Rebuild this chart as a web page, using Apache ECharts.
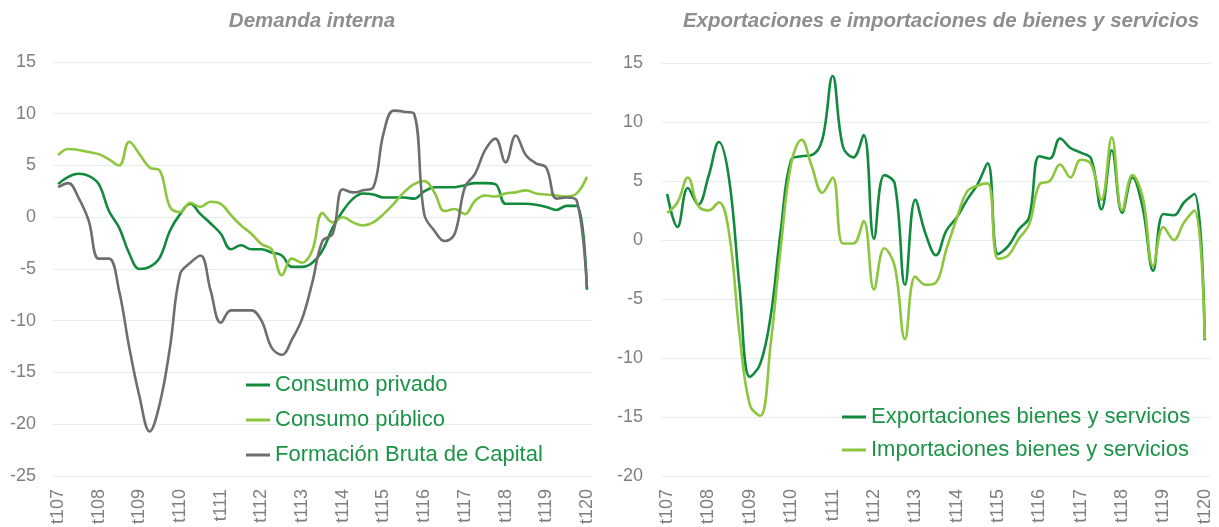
<!DOCTYPE html>
<html>
<head>
<meta charset="utf-8">
<script src="https://cdn.jsdelivr.net/npm/echarts@6/dist/echarts.min.js"></script>
<style>
  html, body { margin: 0; padding: 0; background: #fff; }
  #chart { width: 1219px; height: 527px; }
</style>
</head>
<body>
<div id="chart"></div>
<script type="text/javascript">
// trimestres t107 .. t120
var categories = [
  't107','t207','t307','t407','t108','t208','t308','t408','t109','t209','t309','t409',
  't110','t210','t310','t410','t111','t211','t311','t411','t112','t212','t312','t412',
  't113','t213','t313','t413','t114','t214','t314','t414','t115','t215','t315','t415',
  't116','t216','t316','t416','t117','t217','t317','t417','t118','t218','t318','t418',
  't119','t219','t319','t419','t120'
];

// Demanda interna
var consumoPrivado = [
  3.2, 3.9, 4.2, 4.0, 3.2, 0.6, -1.0, -3.5, -5.0, -4.8, -3.9, -1.3,
  0.3, 1.3, 0.3, -0.6, -1.6, -3.1, -2.7, -3.1, -3.1, -3.4, -3.7, -4.8,
  -4.8, -4.4, -3.2, -1.0, 0.6, 1.8, 2.3, 2.2, 1.9, 1.9, 1.9, 1.8,
  2.5, 2.9, 2.9, 2.9, 3.1, 3.3, 3.3, 3.2, 1.3, 1.3, 1.3, 1.2,
  1.0, 0.7, 1.1, 1.1, -7.0
];
var consumoPublico = [
  6.0, 6.6, 6.5, 6.3, 6.1, 5.6, 5.0, 7.3, 6.1, 4.8, 4.5, 1.0,
  0.5, 1.4, 1.0, 1.5, 1.3, 0.2, -0.8, -1.6, -2.6, -3.1, -5.6, -4.0,
  -4.4, -3.2, 0.4, -0.5, 0.0, -0.5, -0.8, -0.5, 0.3, 1.3, 2.4, 3.2,
  3.5, 2.4, 0.6, 0.8, 0.3, 1.6, 2.1, 2.0, 2.3, 2.4, 2.6, 2.3,
  2.2, 2.1, 2.0, 2.3, 3.9
];
var formacionBruta = [
  2.9, 3.3, 1.9, -0.3, -4.0, -4.0, -7.1, -12.6, -17.3, -20.7, -18.0, -12.6,
  -5.5, -4.4, -3.7, -7.1, -10.2, -9.0, -9.0, -9.0, -10.0, -12.6, -13.3, -11.8,
  -9.8, -6.3, -2.3, -1.6, 2.7, 2.4, 2.6, 2.9, 8.1, 10.3, 10.2, 10.0,
  0.3, -1.3, -2.3, -1.6, 2.9, 4.2, 6.5, 7.6, 5.3, 7.9, 6.0, 5.2,
  4.8, 1.8, 1.9, 1.6, -6.8
];

// Exportaciones e importaciones
var exportaciones = [
  3.9, 1.1, 4.4, 3.0, 5.4, 8.3, 5.1, -4.0, -11.6, -10.5, -6.5, 0.9,
  6.8, 7.1, 7.2, 8.5, 13.9, 7.9, 7.0, 8.9, 0.1, 5.5, 4.8, -3.8,
  3.4, 0.5, -1.3, 0.8, 1.9, 3.4, 4.7, 6.5, -1.2, -0.5, 0.9, 1.9,
  7.1, 6.9, 8.6, 7.8, 7.4, 6.9, 2.6, 7.6, 2.3, 5.3, 2.7, -2.6,
  2.2, 2.1, 3.2, 3.9, -8.5
];
var importaciones = [
  2.3, 3.2, 5.3, 2.9, 2.5, 3.2, 0.5, -8.0, -14.0, -14.9, -8.9, -0.5,
  6.5, 8.5, 6.2, 4.0, 5.3, -0.3, -0.3, 1.6, -4.2, -0.7, -2.2, -8.4,
  -3.1, -3.8, -3.6, -0.8, 1.8, 4.1, 4.6, 4.8, -1.6, -1.3, 0.1, 1.3,
  4.7, 5.0, 6.4, 5.3, 6.8, 6.4, 3.4, 8.7, 2.5, 5.5, 3.6, -2.2,
  1.1, 0.0, 1.5, 2.5, -8.4
];

var verdeOscuro = '#118a3d';
var verdeClaro = '#8cc63e';
var gris = '#6e6e6e';
var fuente = 'Liberation Sans, Arial, sans-serif';

var chart = echarts.init(document.getElementById('chart'));

function xAxis(gridIndex) {
  return {
    type: 'category',
    gridIndex: gridIndex,
    data: categories,
    boundaryGap: true,
    axisLine: { show: false },
    axisTick: { show: false },
    axisLabel: {
      interval: 3,
      rotate: 90,
      margin: 13,
      color: '#7f7f7f',
      fontSize: 18,
      fontFamily: fuente
    }
  };
}

function yAxis(gridIndex, min, max, margin) {
  return {
    type: 'value',
    gridIndex: gridIndex,
    min: min,
    max: max,
    interval: 5,
    axisLine: { show: false },
    axisTick: { show: false },
    splitLine: { lineStyle: { color: '#e4eee8', width: 1 } },
    axisLabel: {
      color: '#7f7f7f',
      fontSize: 18,
      fontFamily: fuente,
      margin: margin
    }
  };
}

function serie(name, data, color, idx) {
  return {
    name: name,
    type: 'line',
    xAxisIndex: idx,
    yAxisIndex: idx,
    data: data,
    smooth: 0.4,
    showSymbol: false,
    symbol: 'none',
    lineStyle: { color: color, width: 2.6 },
    itemStyle: { color: color }
  };
}

var legendText = { color: '#1b9447', fontSize: 22, fontFamily: fuente };
var titleText = { color: '#8e8e8e', fontSize: 20.5, fontStyle: 'italic', fontWeight: 'bold', fontFamily: fuente };

var option = {
  animation: false,
  backgroundColor: '#ffffff',
  title: [
    { text: 'Demanda interna', left: 307, top: 6, textAlign: 'center', textStyle: titleText },
    { text: 'Exportaciones e importaciones de bienes y servicios', left: 936, top: 6, textAlign: 'center', textStyle: titleText }
  ],
  legend: [
    {
      orient: 'vertical',
      left: 241, top: 369,
      itemWidth: 24, itemHeight: 3, itemGap: 13,
      icon: 'rect',
      textStyle: legendText,
      data: ['Consumo privado', 'Consumo público', 'Formación Bruta de Capital']
    },
    {
      orient: 'vertical',
      left: 837, top: 401,
      itemWidth: 24, itemHeight: 3, itemGap: 11,
      icon: 'rect',
      textStyle: legendText,
      data: ['Exportaciones bienes y servicios', 'Importaciones bienes y servicios']
    }
  ],
  grid: [
    { left: 53, width: 539, top: 62, height: 414 },
    { left: 662, width: 548, top: 63, height: 415 }
  ],
  xAxis: [xAxis(0), xAxis(1)],
  yAxis: [yAxis(0, -25, 15, 17), yAxis(1, -20, 15, 19)],
  series: [
    serie('Consumo privado', consumoPrivado, verdeOscuro, 0),
    serie('Consumo público', consumoPublico, verdeClaro, 0),
    serie('Formación Bruta de Capital', formacionBruta, gris, 0),
    serie('Exportaciones bienes y servicios', exportaciones, verdeOscuro, 1),
    serie('Importaciones bienes y servicios', importaciones, verdeClaro, 1)
  ]
};

chart.setOption(option);
</script>
</body>
</html>
